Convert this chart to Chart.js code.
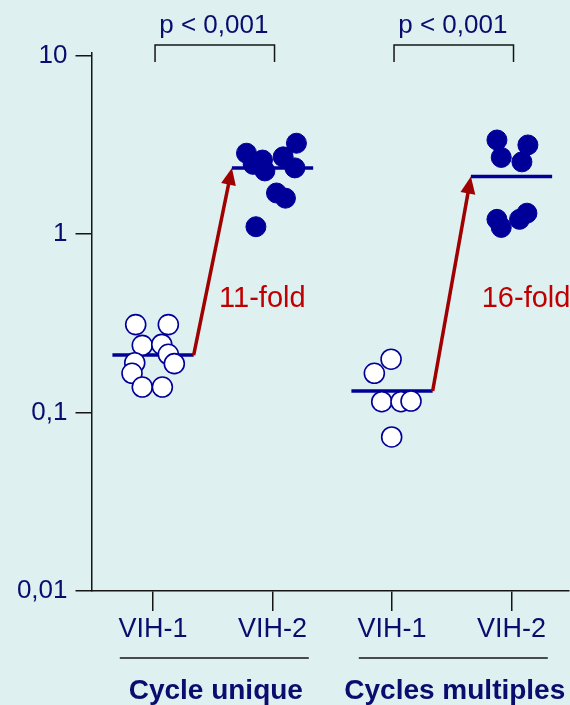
<!DOCTYPE html>
<html><head><meta charset="utf-8">
<script src="https://cdn.jsdelivr.net/npm/chart.js@4.4.0/dist/chart.umd.min.js"></script>
<style>html,body{margin:0;padding:0;background:#dff0f1;}canvas{display:block;}</style>
</head><body>
<canvas id="c" width="570" height="705"></canvas>
<script>
// ---- data ----
const xTickValues = [1, 2, 3, 4];
const xTickLabels = ['VIH-1', 'VIH-2', 'VIH-1', 'VIH-2'];
const yTickValues = [0.01, 0.1, 1, 10];
const yTickLabels = ['0,01', '0,1', '1', '10'];
const groupLabels = ['Cycle unique', 'Cycles multiples'];
const pValueLabels = ['p < 0,001', 'p < 0,001'];
const foldLabels = ['11-fold', '16-fold'];

// Cycle unique, VIH-1 (open circles)
const g1v1Offsets = [-0.145, 0.128, -0.09, 0.073, 0.128, -0.153, 0.178, -0.176, -0.09, 0.078];
const g1v1Values  = [0.311, 0.311, 0.238, 0.241, 0.212, 0.190, 0.188, 0.166, 0.139, 0.139];
// Cycle unique, VIH-2 (filled)
const g1v2Offsets = [-0.218, -0.084, -0.162, -0.064, 0.089, 0.200, 0.187, 0.033, 0.108, -0.139];
const g1v2Values  = [2.84, 2.60, 2.46, 2.26, 2.71, 3.23, 2.35, 1.70, 1.59, 1.10];
// Cycles multiples, VIH-1 (open)
const g2v1Offsets = [-0.008, -0.148, -0.086, 0.075, 0.159, -0.003];
const g2v1Values  = [0.199, 0.166, 0.115, 0.115, 0.116, 0.073];
// Cycles multiples, VIH-2 (filled)
const g2v2Offsets = [-0.122, 0.137, -0.086, 0.087, -0.122, -0.086, 0.067, 0.129];
const g2v2Values  = [3.37, 3.16, 2.69, 2.54, 1.21, 1.09, 1.21, 1.31];
// Medians per category
const medians = [0.210, 2.35, 0.132, 2.10];

// ---- styles ----
const FONT = "'Liberation Sans', Arial, Helvetica, sans-serif";
const NAVY_TEXT = '#0c0c6e';
const BLUE = '#000099';
const RED_ARROW = '#a00000';
const RED_TEXT = '#c00000';
const AXIS = '#151515';
const MED_HALF = 0.34;
const X_MIN = 0.485, X_MAX = 4.481;
const Y_MIN = 0.01, Y_MAX = 10.35;

function pts(cat, offs, vals) { return vals.map((v, i) => ({ x: cat + offs[i], y: v })); }
function medLine(i) { const c = xTickValues[i]; return [{ x: c - MED_HALF, y: medians[i] }, { x: c + MED_HALF, y: medians[i] }]; }

const openStyle = { pointRadius: 10, pointBackgroundColor: '#ffffff', pointBorderColor: BLUE, pointBorderWidth: 1.6, showLine: false, order: 1, clip: false };
const fillStyle = { pointRadius: 10, pointBackgroundColor: BLUE, pointBorderColor: BLUE, pointBorderWidth: 1, showLine: false, order: 1, clip: false };
const medStyle = { showLine: true, pointRadius: 0, borderColor: BLUE, borderWidth: 3.5, order: 2, clip: false };

const datasets = [
  Object.assign({ label: 'g1v1', data: pts(1, g1v1Offsets, g1v1Values) }, openStyle),
  Object.assign({ label: 'g1v2', data: pts(2, g1v2Offsets, g1v2Values) }, fillStyle),
  Object.assign({ label: 'g2v1', data: pts(3, g2v1Offsets, g2v1Values) }, openStyle),
  Object.assign({ label: 'g2v2', data: pts(4, g2v2Offsets, g2v2Values) }, fillStyle),
  Object.assign({ label: 'm1', data: medLine(0) }, medStyle),
  Object.assign({ label: 'm2', data: medLine(1) }, medStyle),
  Object.assign({ label: 'm3', data: medLine(2) }, medStyle),
  Object.assign({ label: 'm4', data: medLine(3) }, medStyle),
];

const foldPos = [{ x: 1.561, y: 0.39 }, { x: 3.759, y: 0.39 }];

const bgPlugin = {
  id: 'bg',
  beforeDraw(chart) {
    const ctx = chart.ctx;
    ctx.save();
    ctx.fillStyle = '#dff0f1';
    ctx.fillRect(0, 0, chart.width, chart.height);
    ctx.restore();
  }
};

function drawArrow(ctx, x1, y1, x2, y2) {
  const a = Math.atan2(y2 - y1, x2 - x1);
  const L = 17, W = 7.5;
  const c = Math.cos(a), s = Math.sin(a);
  const bx = x2 - L * c, by = y2 - L * s;
  ctx.strokeStyle = RED_ARROW; ctx.fillStyle = RED_ARROW;
  ctx.lineWidth = 3.5; ctx.lineCap = 'butt';
  ctx.beginPath(); ctx.moveTo(x1, y1); ctx.lineTo(bx + 2 * c, by + 2 * s); ctx.stroke();
  ctx.beginPath();
  ctx.moveTo(x2, y2);
  ctx.lineTo(bx - W * s, by + W * c);
  ctx.lineTo(bx + W * s, by - W * c);
  ctx.closePath(); ctx.fill();
}

const annPlugin = {
  id: 'ann',
  afterDatasetsDraw(chart) {
    const ctx = chart.ctx, xs = chart.scales.x, ys = chart.scales.y;
    ctx.save();
    for (let g = 0; g < 2; g++) {
      const i1 = g * 2, i2 = g * 2 + 1;
      drawArrow(ctx,
        xs.getPixelForValue(xTickValues[i1] + MED_HALF), ys.getPixelForValue(medians[i1]),
        xs.getPixelForValue(xTickValues[i2] - MED_HALF), ys.getPixelForValue(medians[i2]));
    }
    ctx.fillStyle = RED_TEXT;
    ctx.font = '29px ' + FONT;
    ctx.textAlign = 'left'; ctx.textBaseline = 'alphabetic';
    foldLabels.forEach((t, i) => ctx.fillText(t, xs.getPixelForValue(foldPos[i].x) - 1, ys.getPixelForValue(foldPos[i].y)));
    ctx.restore();
  },
  afterDraw(chart) {
    const ctx = chart.ctx, xs = chart.scales.x, ca = chart.chartArea;
    ctx.save();
    for (let g = 0; g < 2; g++) {
      const p1 = xs.getPixelForValue(xTickValues[g * 2]);
      const p2 = xs.getPixelForValue(xTickValues[g * 2 + 1]);
      const xl = p1 + 2, xr = p2 + 2, mid = (p1 + p2) / 2;
      ctx.strokeStyle = AXIS; ctx.lineWidth = 1.5;
      ctx.beginPath();
      ctx.moveTo(xl, ca.top + 9); ctx.lineTo(xl, ca.top - 8); ctx.lineTo(xr, ca.top - 8); ctx.lineTo(xr, ca.top + 9);
      ctx.stroke();
      ctx.fillStyle = NAVY_TEXT; ctx.font = '26px ' + FONT;
      ctx.textAlign = 'center'; ctx.textBaseline = 'alphabetic';
      ctx.fillText(pValueLabels[g], mid + 1, ca.top - 20);
      ctx.beginPath();
      ctx.moveTo(mid - 93, ca.bottom + 67); ctx.lineTo(mid + 96, ca.bottom + 67);
      ctx.stroke();
      ctx.font = 'bold 28px ' + FONT;
      ctx.fillText(groupLabels[g], mid + 3, ca.bottom + 108);
    }
    ctx.restore();
  }
};

new Chart(document.getElementById('c'), {
  type: 'scatter',
  data: { datasets },
  options: {
    responsive: false,
    animation: false,
    events: [],
    layout: { autoPadding: false, padding: { top: 53, left: 0, right: 1, bottom: 0 } },
    plugins: { legend: { display: false }, tooltip: { enabled: false } },
    scales: {
      x: {
        type: 'linear', min: X_MIN, max: X_MAX, bounds: 'data', grace: 0,
        afterBuildTicks: s => { s.ticks = xTickValues.map(v => ({ value: v })); s.min = X_MIN; s.max = X_MAX; },
        afterFit: s => { s.height = 114; s.paddingLeft = 0; s.paddingRight = 0; },
        border: { color: AXIS, width: 1.5 },
        grid: { drawOnChartArea: false, drawTicks: true, tickLength: 20, color: AXIS, lineWidth: 1.5 },
        ticks: {
          padding: 2, color: NAVY_TEXT, font: { family: FONT, size: 27 }, maxRotation: 0, autoSkip: false,
          callback: v => { const i = xTickValues.indexOf(v); return i >= 0 ? xTickLabels[i] : ''; }
        }
      },
      y: {
        type: 'logarithmic', min: Y_MIN, max: Y_MAX,
        afterBuildTicks: s => { s.ticks = yTickValues.map(v => ({ value: v })); s.min = Y_MIN; s.max = Y_MAX; },
        afterFit: s => { s.width = 91.5; s.paddingTop = 0; s.paddingBottom = 0; },
        border: { color: AXIS, width: 1.5 },
        grid: { drawOnChartArea: false, drawTicks: true, tickLength: 16, color: AXIS, lineWidth: 1.5 },
        ticks: {
          padding: 8, color: NAVY_TEXT, font: { family: FONT, size: 26 }, autoSkip: false,
          callback: v => { const i = yTickValues.indexOf(v); return i >= 0 ? yTickLabels[i] : ''; }
        }
      }
    }
  },
  plugins: [bgPlugin, annPlugin]
});
</script>
</body></html>
